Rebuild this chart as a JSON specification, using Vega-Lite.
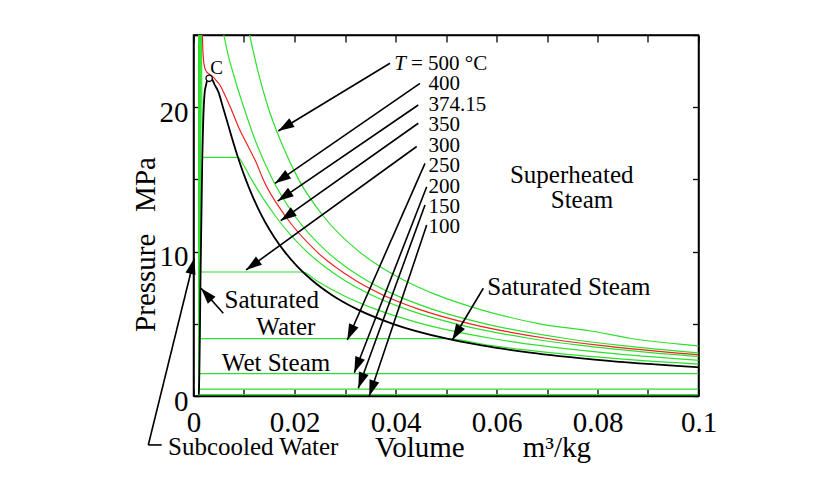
{
  "$schema": "https://vega.github.io/schema/vega-lite/v6.json",
  "width": 505,
  "height": 361,
  "autosize": "none",
  "padding": {"left": 193.5, "top": 35, "right": 121.5, "bottom": 91},
  "background": "white",
  "config": {
    "view": {"stroke": "black", "strokeWidth": 1.5},
    "font": "Liberation Serif",
    "axis": {
      "grid": false,
      "domainColor": "black",
      "domainWidth": 1.5,
      "tickColor": "black",
      "tickWidth": 1.3,
      "labelColor": "black",
      "titleColor": "black",
      "labelFont": "Liberation Serif",
      "titleFont": "Liberation Serif",
      "labelFontSize": 29,
      "titleFontSize": 29,
      "titleFontWeight": "normal",
      "labelFlush": false,
      "labelOverlap": false
    }
  },
  "datasets": {
    "iso": [
      {"T": "100", "v": 0.00103, "P": 25}, {"T": "100", "v": 0.001043, "P": 0.101}, {"T": "100", "v": 0.1, "P": 0.101},
      {"T": "150", "v": 0.00108, "P": 25}, {"T": "150", "v": 0.001091, "P": 0.476}, {"T": "150", "v": 0.1, "P": 0.476},
      {"T": "200", "v": 0.001138, "P": 25}, {"T": "200", "v": 0.001157, "P": 1.555}, {"T": "200", "v": 0.1, "P": 1.555},
      {"T": "250", "v": 0.001224, "P": 25}, {"T": "250", "v": 0.001252, "P": 3.976}, {"T": "250", "v": 0.05008, "P": 3.976}, {"T": "250", "v": 0.05873, "P": 3.5}, {"T": "250", "v": 0.07058, "P": 3.0}, {"T": "250", "v": 0.087, "P": 2.5}, {"T": "250", "v": 0.11144, "P": 2.0},
      {"T": "300", "v": 0.001347, "P": 25}, {"T": "300", "v": 0.001404, "P": 8.588}, {"T": "300", "v": 0.02166, "P": 8.588}, {"T": "300", "v": 0.02427, "P": 8}, {"T": "300", "v": 0.02947, "P": 7}, {"T": "300", "v": 0.03616, "P": 6}, {"T": "300", "v": 0.04532, "P": 5}, {"T": "300", "v": 0.05884, "P": 4}, {"T": "300", "v": 0.06842, "P": 3.5}, {"T": "300", "v": 0.08114, "P": 3.0}, {"T": "300", "v": 0.0989, "P": 2.5}, {"T": "300", "v": 0.12551, "P": 2.0},
      {"T": "350", "v": 0.001569, "P": 25}, {"T": "350", "v": 0.001665, "P": 20}, {"T": "350", "v": 0.001741, "P": 16.53}, {"T": "350", "v": 0.00881, "P": 16.53}, {"T": "350", "v": 0.0099, "P": 16}, {"T": "350", "v": 0.01148, "P": 15}, {"T": "350", "v": 0.01613, "P": 12.5}, {"T": "350", "v": 0.02242, "P": 10}, {"T": "350", "v": 0.0258, "P": 9}, {"T": "350", "v": 0.02995, "P": 8}, {"T": "350", "v": 0.03524, "P": 7}, {"T": "350", "v": 0.04223, "P": 6}, {"T": "350", "v": 0.05194, "P": 5}, {"T": "350", "v": 0.06645, "P": 4}, {"T": "350", "v": 0.07678, "P": 3.5}, {"T": "350", "v": 0.09053, "P": 3.0}, {"T": "350", "v": 0.10976, "P": 2.5},
      {"T": "374.15", "v": 0.00175, "P": 25}, {"T": "374.15", "v": 0.00185, "P": 24}, {"T": "374.15", "v": 0.002, "P": 23.2}, {"T": "374.15", "v": 0.00225, "P": 22.7}, {"T": "374.15", "v": 0.0026, "P": 22.45}, {"T": "374.15", "v": 0.0031, "P": 22.3}, {"T": "374.15", "v": 0.0037, "P": 22.15}, {"T": "374.15", "v": 0.0045, "P": 21.85}, {"T": "374.15", "v": 0.0053, "P": 21.5}, {"T": "374.15", "v": 0.006, "P": 21.0}, {"T": "374.15", "v": 0.0073, "P": 20.0}, {"T": "374.15", "v": 0.0092, "P": 18.4}, {"T": "374.15", "v": 0.0105, "P": 17.5}, {"T": "374.15", "v": 0.0125, "P": 16.1}, {"T": "374.15", "v": 0.0138, "P": 15}, {"T": "374.15", "v": 0.0181, "P": 12.5}, {"T": "374.15", "v": 0.0244, "P": 10}, {"T": "374.15", "v": 0.0321, "P": 8}, {"T": "374.15", "v": 0.0375, "P": 7}, {"T": "374.15", "v": 0.0447, "P": 6}, {"T": "374.15", "v": 0.0548, "P": 5}, {"T": "374.15", "v": 0.0698, "P": 4}, {"T": "374.15", "v": 0.0805, "P": 3.5}, {"T": "374.15", "v": 0.0948, "P": 3}, {"T": "374.15", "v": 0.1148, "P": 2.5},
      {"T": "400", "v": 0.006005, "P": 25}, {"T": "400", "v": 0.00694, "P": 23.5}, {"T": "400", "v": 0.00773, "P": 22.5}, {"T": "400", "v": 0.00857, "P": 21.5}, {"T": "400", "v": 0.00995, "P": 20}, {"T": "400", "v": 0.012447, "P": 17.5}, {"T": "400", "v": 0.015649, "P": 15}, {"T": "400", "v": 0.02, "P": 12.5}, {"T": "400", "v": 0.02641, "P": 10}, {"T": "400", "v": 0.02993, "P": 9}, {"T": "400", "v": 0.03432, "P": 8}, {"T": "400", "v": 0.03993, "P": 7}, {"T": "400", "v": 0.04739, "P": 6}, {"T": "400", "v": 0.05781, "P": 5}, {"T": "400", "v": 0.07341, "P": 4}, {"T": "400", "v": 0.08453, "P": 3.5}, {"T": "400", "v": 0.09936, "P": 3.0}, {"T": "400", "v": 0.12012, "P": 2.5},
      {"T": "500", "v": 0.011123, "P": 25}, {"T": "500", "v": 0.01275, "P": 22.5}, {"T": "500", "v": 0.014768, "P": 20}, {"T": "500", "v": 0.017448, "P": 17.5}, {"T": "500", "v": 0.0208, "P": 15}, {"T": "500", "v": 0.0256, "P": 12.5}, {"T": "500", "v": 0.03279, "P": 10}, {"T": "500", "v": 0.03677, "P": 9}, {"T": "500", "v": 0.04177, "P": 8}, {"T": "500", "v": 0.04814, "P": 7}, {"T": "500", "v": 0.05665, "P": 6}, {"T": "500", "v": 0.06857, "P": 5}, {"T": "500", "v": 0.07869, "P": 4.5}, {"T": "500", "v": 0.08643, "P": 4}, {"T": "500", "v": 0.09876, "P": 3.5}, {"T": "500", "v": 0.11619, "P": 3.0}
    ],
    "sat": [
      {"v": 0.001043, "P": 0.101}, {"v": 0.001091, "P": 0.476}, {"v": 0.001157, "P": 1.555}, {"v": 0.001252, "P": 3.976}, {"v": 0.001404, "P": 8.588}, {"v": 0.001741, "P": 16.53}, {"v": 0.001895, "P": 18.67}, {"v": 0.002217, "P": 21.04}, {"v": 0.00246, "P": 21.49}, {"v": 0.0028, "P": 21.96}, {"v": 0.0031, "P": 22.064},
      {"v": 0.0036, "P": 21.98}, {"v": 0.0042, "P": 21.55}, {"v": 0.004946, "P": 21.04}, {"v": 0.00583, "P": 20}, {"v": 0.00668, "P": 19}, {"v": 0.0075, "P": 18}, {"v": 0.00837, "P": 17}, {"v": 0.00931, "P": 16}, {"v": 0.01034, "P": 15}, {"v": 0.01149, "P": 14}, {"v": 0.01278, "P": 13}, {"v": 0.01426, "P": 12}, {"v": 0.01599, "P": 11}, {"v": 0.01803, "P": 10}, {"v": 0.02049, "P": 9}, {"v": 0.02353, "P": 8}, {"v": 0.02738, "P": 7}, {"v": 0.03245, "P": 6}, {"v": 0.03945, "P": 5}, {"v": 0.04978, "P": 4}, {"v": 0.05706, "P": 3.5}, {"v": 0.06666, "P": 3}, {"v": 0.07995, "P": 2.5}, {"v": 0.09959, "P": 2.0}, {"v": 0.1318, "P": 1.5}
    ],
    "arrows": [
      {"name": "500", "v1": 0.03891, "P1": 23.04, "v2": 0.01679, "P2": 18.35},
      {"name": "400", "v1": 0.04485, "P1": 21.65, "v2": 0.01614, "P2": 14.73},
      {"name": "374.15", "v1": 0.04451, "P1": 20.15, "v2": 0.01667, "P2": 13.5},
      {"name": "350", "v1": 0.04451, "P1": 18.89, "v2": 0.01727, "P2": 12.14},
      {"name": "300", "v1": 0.0442, "P1": 17.28, "v2": 0.0104, "P2": 8.73},
      {"name": "250", "v1": 0.04584, "P1": 16.11, "v2": 0.03046, "P2": 3.88},
      {"name": "200", "v1": 0.04618, "P1": 14.49, "v2": 0.03184, "P2": 1.61},
      {"name": "150", "v1": 0.04584, "P1": 13.23, "v2": 0.03263, "P2": 0.53},
      {"name": "100", "v1": 0.04618, "P1": 11.84, "v2": 0.03481, "P2": 0.0},
      {"name": "satsteam", "v1": 0.05739, "P1": 7.46, "v2": 0.05125, "P2": 3.88},
      {"name": "satwater", "v1": 0.0059, "P1": 5.73, "v2": 0.00149, "P2": 7.46},
      {"name": "subcooled", "v1": -0.00895, "P1": -3.39, "v2": 0.00016, "P2": 9.54},
      {"name": "foot", "v1": -0.00895, "P1": -3.39, "v2": -0.0063, "P2": -3.39}
    ],
    "nums": [
      {"text": "= 500 °C", "v": 0.04307, "P": 22.99},
      {"text": "400", "v": 0.04653, "P": 21.59},
      {"text": "374.15", "v": 0.04653, "P": 20.15},
      {"text": "350", "v": 0.04653, "P": 18.77},
      {"text": "300", "v": 0.04653, "P": 17.31},
      {"text": "250", "v": 0.04653, "P": 15.93},
      {"text": "200", "v": 0.04653, "P": 14.49},
      {"text": "150", "v": 0.04653, "P": 13.11},
      {"text": "100", "v": 0.04653, "P": 11.72}
    ],
    "bigc": [
      {"text": "Superheated", "v": 0.07489, "P": 15.3},
      {"text": "Steam", "v": 0.07693, "P": 13.57},
      {"text": "Saturated", "v": 0.01549, "P": 6.65},
      {"text": "Water", "v": 0.01828, "P": 4.8},
      {"text": "Wet Steam", "v": 0.01634, "P": 2.29}
    ],
    "bigl": [
      {"text": "Saturated Steam", "v": 0.05818, "P": 7.57},
      {"text": "Subcooled Water", "v": -0.00505, "P": -3.53}
    ],
    "crit": [{"text": "C", "v": 0.0031, "P": 22.0, "lv": 0.00459, "lP": 22.74}]
  },
  "resolve": {"axis": {"x": "independent", "y": "independent"}},
  "layer": [
    {
      "data": {"name": "iso"},
      "mark": {"type": "line", "interpolate": "monotone", "strokeWidth": 1.2, "clip": true},
      "encoding": {
        "x": {"field": "v", "type": "quantitative", "scale": {"domain": [0, 0.1], "nice": false, "zero": false},
          "axis": {"orient": "bottom", "values": [0, 0.01, 0.02, 0.03, 0.04, 0.05, 0.06, 0.07, 0.08, 0.09, 0.1], "format": "~g",
            "labelExpr": "round(datum.value*100) % 2 == 0 ? datum.label : ''", "tickSize": -7, "labelPadding": 19, "labelBaseline": "top",
            "title": "Volume\u00a0\u00a0\u00a0\u00a0\u00a0\u00a0\u00a0\u00a0m³/kg", "titleX": 289, "titleY": 51, "titleAlign": "center", "titleBaseline": "middle"}},
        "y": {"field": "P", "type": "quantitative", "scale": {"domain": [0, 25], "nice": false},
          "axis": {"orient": "left", "values": [0, 5, 10, 15, 20, 25], "labelExpr": "datum.value % 10 == 0 ? datum.label : ''",
            "tickSize": -6, "labelPadding": 11.5, "labelOffset": 5, "labelAlign": "right", "labelBaseline": "middle",
            "title": "Pressure\u00a0\u00a0\u00a0MPa", "titleX": -48, "titleY": 209, "titleAngle": -90, "titleAlign": "center", "titleBaseline": "middle"}},
        "color": {"field": "T", "type": "nominal", "legend": null,
          "scale": {"domain": ["100", "150", "200", "250", "300", "350", "374.15", "400", "500"],
            "range": ["#2ee02e", "#2ee02e", "#2ee02e", "#2ee02e", "#2ee02e", "#2ee02e", "#ee2222", "#2ee02e", "#2ee02e"]}},
        "detail": {"field": "T"}
      }
    },
    {
      "data": {"name": "sat"},
      "mark": {"type": "line", "interpolate": "monotone", "strokeWidth": 1.8, "color": "black", "clip": true},
      "encoding": {
        "x": {"field": "v", "type": "quantitative", "scale": {"domain": [0, 0.1], "nice": false, "zero": false}, "axis": null},
        "y": {"field": "P", "type": "quantitative", "scale": {"domain": [0, 25], "nice": false}, "axis": null}
      }
    },
    {
      "data": {"name": "arrows"},
      "mark": {"type": "rule", "strokeWidth": 1.6, "color": "black", "clip": false},
      "encoding": {
        "x": {"field": "v1", "type": "quantitative", "scale": {"domain": [0, 0.1], "nice": false, "zero": false}, "axis": null},
        "y": {"field": "P1", "type": "quantitative", "scale": {"domain": [0, 25], "nice": false}, "axis": null},
        "x2": {"field": "v2"},
        "y2": {"field": "P2"}
      }
    },
    {
      "data": {"name": "arrows"},
      "transform": [
        {"filter": "datum.name != 'foot'"},
        {"calculate": "atan2((datum.v2 - datum.v1) * 5050, (datum.P2 - datum.P1) * 14.44) * 180 / PI", "as": "ang"}
      ],
      "mark": {"type": "point", "shape": "M0,0L-0.32,1L0.32,1Z", "filled": true, "color": "black", "opacity": 1, "size": 1024, "clip": false, "strokeWidth": 0},
      "encoding": {
        "x": {"field": "v2", "type": "quantitative", "scale": {"domain": [0, 0.1], "nice": false, "zero": false}, "axis": null},
        "y": {"field": "P2", "type": "quantitative", "scale": {"domain": [0, 25], "nice": false}, "axis": null},
        "angle": {"field": "ang", "type": "quantitative", "scale": null}
      }
    },
    {
      "data": {"name": "crit"},
      "mark": {"type": "point", "shape": "circle", "filled": false, "fill": "white", "fillOpacity": 1, "stroke": "black", "strokeWidth": 1.3, "size": 40, "opacity": 1},
      "encoding": {
        "x": {"field": "v", "type": "quantitative", "scale": {"domain": [0, 0.1], "nice": false, "zero": false},
          "axis": {"orient": "top", "values": [0, 0.01, 0.02, 0.03, 0.04, 0.05, 0.06, 0.07, 0.08, 0.09, 0.1], "labels": false, "tickSize": -7, "title": null}},
        "y": {"field": "P", "type": "quantitative", "scale": {"domain": [0, 25], "nice": false},
          "axis": {"orient": "right", "values": [0, 5, 10, 15, 20, 25], "labels": false, "tickSize": -6, "title": null}}
      }
    },
    {
      "data": {"name": "crit"},
      "mark": {"type": "text", "fontSize": 19, "font": "Liberation Serif", "align": "center", "baseline": "middle", "color": "black"},
      "encoding": {
        "x": {"field": "lv", "type": "quantitative", "scale": {"domain": [0, 0.1], "nice": false, "zero": false}, "axis": null},
        "y": {"field": "lP", "type": "quantitative", "scale": {"domain": [0, 25], "nice": false}, "axis": null},
        "text": {"field": "text"}
      }
    },
    {
      "data": {"values": [{"text": "T", "v": 0.04089, "P": 22.99}]},
      "mark": {"type": "text", "fontSize": 21, "font": "Liberation Serif", "fontStyle": "italic", "align": "center", "baseline": "middle", "color": "black"},
      "encoding": {
        "x": {"field": "v", "type": "quantitative", "scale": {"domain": [0, 0.1], "nice": false, "zero": false}, "axis": null},
        "y": {"field": "P", "type": "quantitative", "scale": {"domain": [0, 25], "nice": false}, "axis": null},
        "text": {"field": "text"}
      }
    },
    {
      "data": {"name": "nums"},
      "mark": {"type": "text", "fontSize": 21, "font": "Liberation Serif", "align": "left", "baseline": "middle", "color": "black"},
      "encoding": {
        "x": {"field": "v", "type": "quantitative", "scale": {"domain": [0, 0.1], "nice": false, "zero": false}, "axis": null},
        "y": {"field": "P", "type": "quantitative", "scale": {"domain": [0, 25], "nice": false}, "axis": null},
        "text": {"field": "text"}
      }
    },
    {
      "data": {"name": "bigc"},
      "mark": {"type": "text", "fontSize": 25, "font": "Liberation Serif", "align": "center", "baseline": "middle", "color": "black"},
      "encoding": {
        "x": {"field": "v", "type": "quantitative", "scale": {"domain": [0, 0.1], "nice": false, "zero": false}, "axis": null},
        "y": {"field": "P", "type": "quantitative", "scale": {"domain": [0, 25], "nice": false}, "axis": null},
        "text": {"field": "text"}
      }
    },
    {
      "data": {"name": "bigl"},
      "mark": {"type": "text", "fontSize": 25, "font": "Liberation Serif", "align": "left", "baseline": "middle", "color": "black"},
      "encoding": {
        "x": {"field": "v", "type": "quantitative", "scale": {"domain": [0, 0.1], "nice": false, "zero": false}, "axis": null},
        "y": {"field": "P", "type": "quantitative", "scale": {"domain": [0, 25], "nice": false}, "axis": null},
        "text": {"field": "text"}
      }
    }
  ]
}
